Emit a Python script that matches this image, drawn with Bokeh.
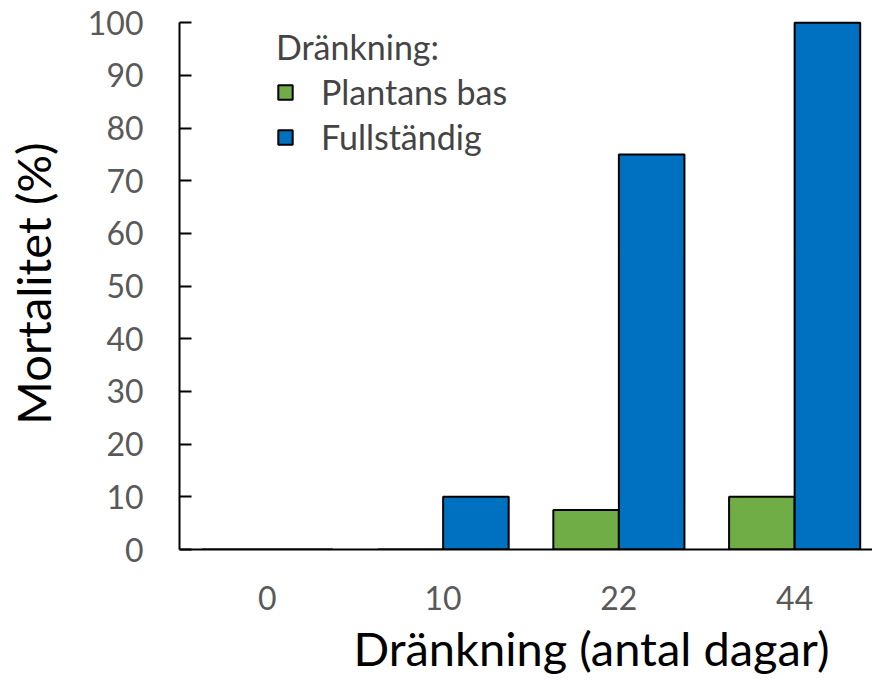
from bokeh.plotting import figure
from bokeh.models import ColumnDataSource, FixedTicker, Legend, LegendItem, Title
from bokeh.embed import file_html
from bokeh.resources import INLINE

# Mortality by flooding duration, two flooding types
days = ["0", "10", "22", "44"]
plant_base = [0, 0, 7.5, 10]      # "Plantans bas"
full = [0, 10, 75, 100]           # "Fullständig"
y_ticks = [0, 10, 20, 30, 40, 50, 60, 70, 80, 90, 100]

GREEN = "#70AD47"
BLUE = "#0070C0"
FONT = "Lato"
GREY = "#595959"

idx = list(range(len(days)))
bar_w = 0.373
src = ColumnDataSource(dict(
    xg=[i - bar_w / 2 for i in idx],
    xb=[i + bar_w / 2 for i in idx],
    plant_base=plant_base,
    full=full,
))

p = figure(
    width=872, height=681,
    x_range=(-0.5, 3.443), y_range=(0, 101),
    output_backend="svg", toolbar_location=None,
    min_border_left=179, min_border_right=0,
    min_border_top=17, min_border_bottom=131,
)
p.outline_line_color = None
p.xgrid.visible = False
p.ygrid.visible = False

rg = p.vbar(x="xg", top="plant_base", width=bar_w, source=src,
            fill_color=GREEN, line_color="black", line_width=2)
rb = p.vbar(x="xb", top="full", width=bar_w, source=src,
            fill_color=BLUE, line_color="black", line_width=2)

# y axis: ticks pointing inward, grey labels
ya = p.yaxis[0]
ya.ticker = FixedTicker(ticks=y_ticks)
ya.bounds = (0, 100)
ya.axis_line_color = "black"
ya.axis_line_width = 2
ya.major_tick_in = 12
ya.major_tick_out = 0
ya.major_tick_line_width = 2
ya.minor_tick_line_color = None
ya.major_label_standoff = 36
ya.major_label_text_font = FONT
ya.major_label_text_font_size = "32px"
ya.major_label_text_color = GREY
ya.axis_label = "Mortalitet (%)"
ya.axis_label_standoff = 24
ya.axis_label_text_font = FONT
ya.axis_label_text_font_size = "47px"
ya.axis_label_text_font_style = "normal"
ya.axis_label_text_color = "black"

# x axis: category labels at bar-group centres
xa = p.xaxis[0]
xa.ticker = FixedTicker(ticks=idx)
xa.major_label_overrides = {i: d for i, d in zip(idx, days)}
xa.axis_line_color = "black"
xa.axis_line_width = 2
xa.major_tick_line_color = None
xa.minor_tick_line_color = None
xa.major_label_standoff = 30
xa.major_label_text_font = FONT
xa.major_label_text_font_size = "32px"
xa.major_label_text_color = GREY

# x axis title, set right of the frame centre
p.add_layout(Title(
    text="Dränkning (antal dagar)", align="left", offset=174,
    text_font=FONT, text_font_size="47px", text_font_style="normal",
    text_color="black", standoff=11, text_baseline="alphabetic",
), "below")

legend = Legend(
    items=[LegendItem(label="Plantans bas", renderers=[rg]),
           LegendItem(label="Fullständig", renderers=[rb])],
    title="Dränkning:",
    location=(97, 392),
    padding=0, margin=0, spacing=4,
    glyph_width=18, glyph_height=18, label_height=18,
    label_standoff=27,
    title_standoff=4,
    border_line_color=None, background_fill_alpha=0,
    label_text_font=FONT, label_text_font_size="34px",
    title_text_font=FONT, title_text_font_size="34px",
    title_text_font_style="normal",
)
p.add_layout(legend, "center")

open("out.html", "w").write(file_html(p, INLINE))
